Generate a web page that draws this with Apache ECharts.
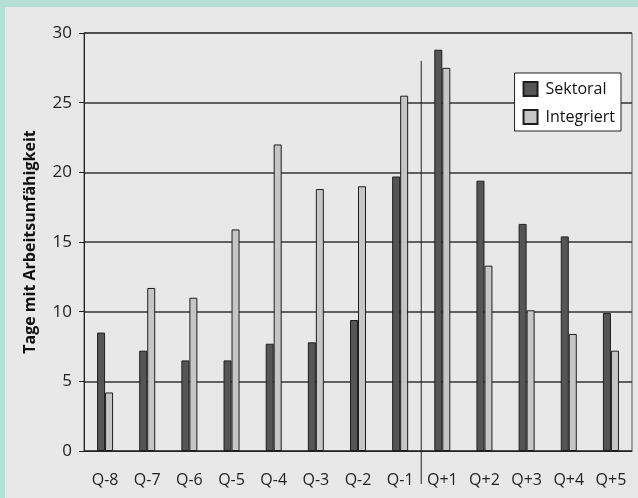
<!DOCTYPE html>
<html>
<head>
<meta charset="utf-8">
<script src="https://cdn.jsdelivr.net/npm/echarts@6/dist/echarts.min.js"></script>
<style>
  html, body { margin: 0; padding: 0; background: #b3dfd5; }
  #chart {
    position: absolute; left: 5px; top: 7px;
    width: 633px; height: 491px; background: #e8e8e8;
  }
</style>
</head>
<body>
<div id="chart"></div>
<script>
var quartale = ['Q-8', 'Q-7', 'Q-6', 'Q-5', 'Q-4', 'Q-3', 'Q-2', 'Q-1', 'Q+1', 'Q+2', 'Q+3', 'Q+4', 'Q+5'];
var sektoral = [8.5, 7.2, 6.5, 6.5, 7.7, 7.8, 9.4, 19.7, 28.8, 19.4, 16.3, 15.4, 9.9];
var integriert = [4.2, 11.7, 11.0, 15.9, 22.0, 18.8, 19.0, 25.5, 27.5, 13.3, 10.1, 8.4, 7.2];
var markerTop = 28;   // obere Kante der Trennlinie zwischen Q-1 und Q+1

var fontName = 'Open Sans';

var chart = echarts.init(document.getElementById('chart'));

chart.setOption({
    animation: false,
    textStyle: { fontFamily: fontName },
    grid: {
        left: 79, right: 6, top: 26, bottom: 47,
        show: true,
        backgroundColor: 'transparent',
        borderColor: '#555',
        borderWidth: 1
    },
    legend: {
        right: 17, top: 66,
        orient: 'vertical',
        backgroundColor: '#fff',
        borderColor: '#222',
        borderWidth: 1,
        borderRadius: 0,
        padding: [8, 6, 6, 8],
        itemGap: 12,
        itemWidth: 14,
        itemHeight: 14,
        textStyle: { fontFamily: fontName, fontSize: 16, color: '#111', padding: [0, 0, 0, 3] },
        data: [
            { name: 'Sektoral', icon: 'rect' },
            { name: 'Integriert', icon: 'rect' }
        ]
    },
    xAxis: {
        type: 'category',
        data: quartale,
        axisTick: { show: false },
        axisLine: { lineStyle: { color: '#222', width: 1 } },
        axisLabel: { color: '#222', fontSize: 16, margin: 21, interval: 0, fontFamily: fontName }
    },
    yAxis: {
        type: 'value',
        min: 0, max: 30, interval: 5,
        name: 'Tage mit Arbeitsunfähigkeit',
        nameLocation: 'middle',
        nameGap: 46,
        nameTextStyle: { fontSize: 16, fontWeight: 'bold', color: '#111', fontFamily: fontName },
        axisLine: { show: true, lineStyle: { color: '#222', width: 1 } },
        axisTick: { show: true, length: 5, lineStyle: { color: '#222' } },
        axisLabel: { color: '#222', fontSize: 17, margin: 12, fontFamily: fontName },
        splitLine: { lineStyle: { color: '#333', width: 1.5 } }
    },
    series: [
        {
            name: 'Sektoral',
            type: 'bar',
            data: sektoral,
            barWidth: 8,
            barGap: '0%',
            itemStyle: { color: '#555555', borderColor: '#1e1e1e', borderWidth: 1 }
        },
        {
            name: 'Integriert',
            type: 'bar',
            data: integriert,
            barWidth: 8,
            itemStyle: { color: '#c6c6c6', borderColor: '#1e1e1e', borderWidth: 1 }
        }
    ]
});

// Trennlinie zwischen Q-1 und Q+1, aus den Achsen berechnet
var pA = chart.convertToPixel({ gridIndex: 0 }, [7, markerTop]);
var pB = chart.convertToPixel({ gridIndex: 0 }, [8, 0]);
var xMid = (pA[0] + pB[0]) / 2;
chart.setOption({
    graphic: [{
        type: 'line',
        shape: { x1: xMid, y1: pA[1], x2: xMid, y2: pB[1] + 33 },
        style: { stroke: '#222', lineWidth: 1 },
        z: 10
    }]
});
</script>
</body>
</html>
